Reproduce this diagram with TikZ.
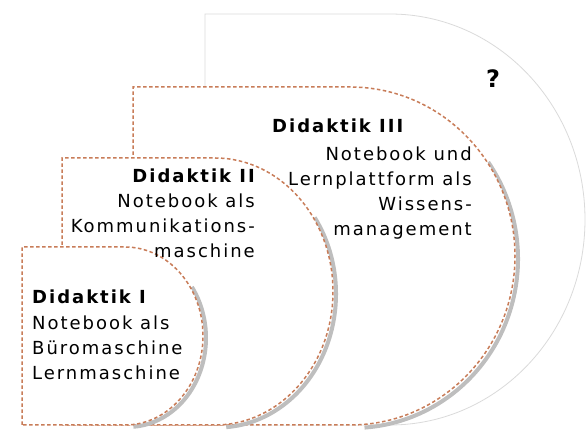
\documentclass[tikz,border=0pt]{standalone}
\usepackage{fontspec}
\setmainfont{DejaVu Sans}[LetterSpace=11]
\usetikzlibrary{positioning}
\definecolor{rust}{RGB}{200,124,88}
\definecolor{shade}{RGB}{190,190,190}
\definecolor{frame}{RGB}{218,218,218}

\begin{document}
\begin{tikzpicture}[
    x=1pt, y=1pt,
    % Styles
    stage/.style={draw=rust, fill=white, line width=1.5pt, dash pattern=on 3.5pt off 2.5pt},
    shadow/.style={draw=shade, line width=4pt},
    outline/.style={draw=frame, line width=0.8pt},
    title/.style={inner sep=0pt, font=\fontsize{18}{25}\selectfont\bfseries},
    body/.style={inner sep=0pt, font=\fontsize{18}{25}\selectfont}
]
\useasboundingbox (0,0) rectangle (587,431);

% --- Outer (open) stage ---
\draw[outline] (205,6) -- (205,417) -- (390,417) arc[start angle=90, end angle=-90, x radius=195, y radius=205.5] -- cycle;
\node[title, font=\fontsize{24}{25}\selectfont\bfseries, anchor=base] (unknown) at (493,343) {?};

% --- Didaktik III ---
\draw[shadow] (353,172) ++(35:165 and 169) arc[start angle=35, end angle=-86, x radius=165, y radius=169];
\draw[stage] (133,6) -- (133,344) -- (350,344) arc[start angle=90, end angle=-90, x radius=165, y radius=169] -- cycle;

% --- Didaktik II ---
\draw[shadow] (218,137) ++(35:118 and 133.5) arc[start angle=35, end angle=-86, x radius=118, y radius=133.5];
\draw[stage] (62,6) -- (62,273) -- (215,273) arc[start angle=90, end angle=-90, x radius=118, y radius=133.5] -- cycle;

% --- Didaktik I ---
\draw[shadow] (128,93) ++(35:78 and 89) arc[start angle=35, end angle=-86, x radius=78, y radius=89];
\draw[stage] (22,6) -- (22,184) -- (125,184) arc[start angle=90, end angle=-90, x radius=78, y radius=89] -- cycle;

% --- Labels (multi-line nodes sit on their last baseline) ---
\node[title, anchor=base west] (title_one) at (32,127) {Didaktik I};
\node[body, align=left, anchor=base west] (text_one) at ([yshift=-76pt]title_one.base west) {Notebook als\\Büromaschine\\Lernmaschine};

\node[title, anchor=base east] (title_two) at (255,248) {Didaktik II};
\node[body, align=right, anchor=base east] (text_two) at ([yshift=-75pt]title_two.base east) {Notebook als\\Kommunikations-\\maschine};

\node[title, anchor=base west] (title_three) at (272,298) {Didaktik III};
\node[body, align=right, anchor=base east] (text_three) at (472,195) {Notebook und\\Lernplattform als\\Wissens-\\management};

\end{tikzpicture}
\end{document}
